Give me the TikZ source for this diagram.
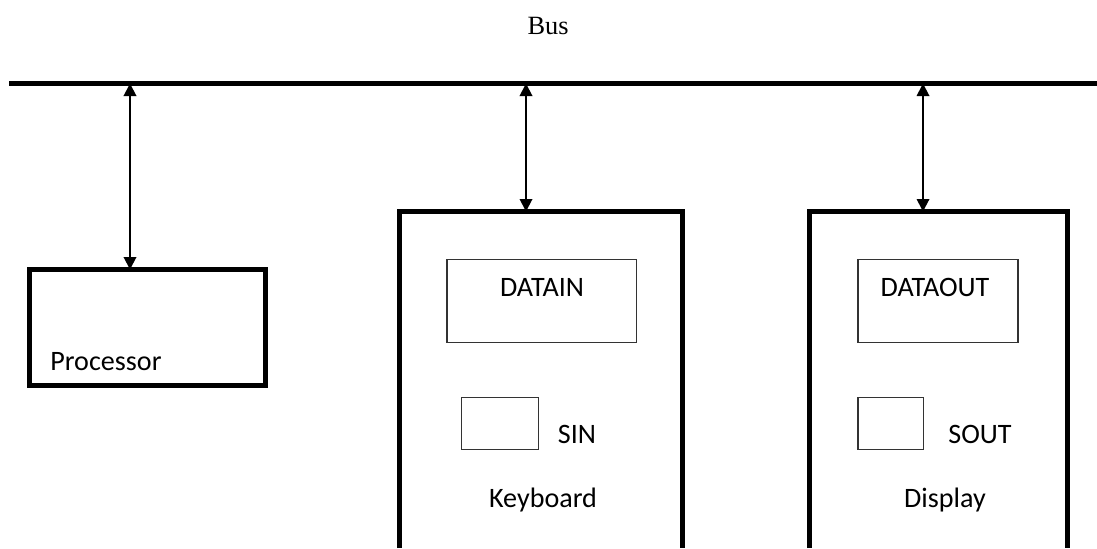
\documentclass[tikz,border=0pt]{standalone}
\usepackage{fontspec}
\setmainfont{Carlito}
\newfontfamily\busfont{Liberation Serif}
\usetikzlibrary{arrows.meta}

\begin{document}
\begin{tikzpicture}[x=0.02cm,y=-0.02cm,
  unit/.style={line width=2.6pt},
  reg/.style={draw=black!80,line width=0.75pt},
  link/.style={line width=1.1pt,{Triangle[length=0.25cm,width=0.25cm]}-{Triangle[length=0.25cm,width=0.25cm]}},
  lbl/.style={font=\fontsize{16}{19}\selectfont,inner sep=0pt}]
\useasboundingbox (0,0) rectangle (1097,548);
% bus
\node[font=\busfont\fontsize{15}{18}\selectfont] (bus) at (548,26) {Bus};
\coordinate (busl) at (9,83.5);
\coordinate (busr) at (1097,83.5);
\draw[unit] (busl) -- (busr);
% processor
\draw[unit] (29.5,269.5) rectangle (265.5,385.5);
\coordinate (proctop) at (130,269.5);
\node[lbl,anchor=base west] (proc) at (50,370) {Processor};
% keyboard
\draw[unit] (399.5,548) |- (682.5,211.5) -- (682.5,548);
\coordinate (kbtop) at (526,211.5);
\draw[reg] (447,259.5) rectangle (636.5,342.5);
\node[lbl,anchor=base] (datain) at (542,296) {DATAIN};
\draw[reg] (461.5,397.5) rectangle (538.5,449.5);
\node[lbl,anchor=base] (sin) at (577,443) {SIN};
\node[lbl,anchor=base] (kb) at (543,507) {Keyboard};
% display
\draw[unit] (809.5,548) |- (1067.5,211.5) -- (1067.5,548);
\coordinate (dsptop) at (923,211.5);
\draw[reg] (858,259.5) rectangle (1018,342.5);
\node[lbl,anchor=base] (dataout) at (935,296) {DATAOUT};
\draw[reg] (858,397.5) rectangle (923.5,449.5);
\node[lbl,anchor=base] (sout) at (980,443) {SOUT};
\node[lbl,anchor=base] (dsp) at (945,507) {Display};
% links to the bus
\draw[link] (proctop |- busr) -- (proctop);
\draw[link] (kbtop |- busr) -- (kbtop);
\draw[link] (dsptop |- busr) -- (dsptop);
\end{tikzpicture}
\end{document}
